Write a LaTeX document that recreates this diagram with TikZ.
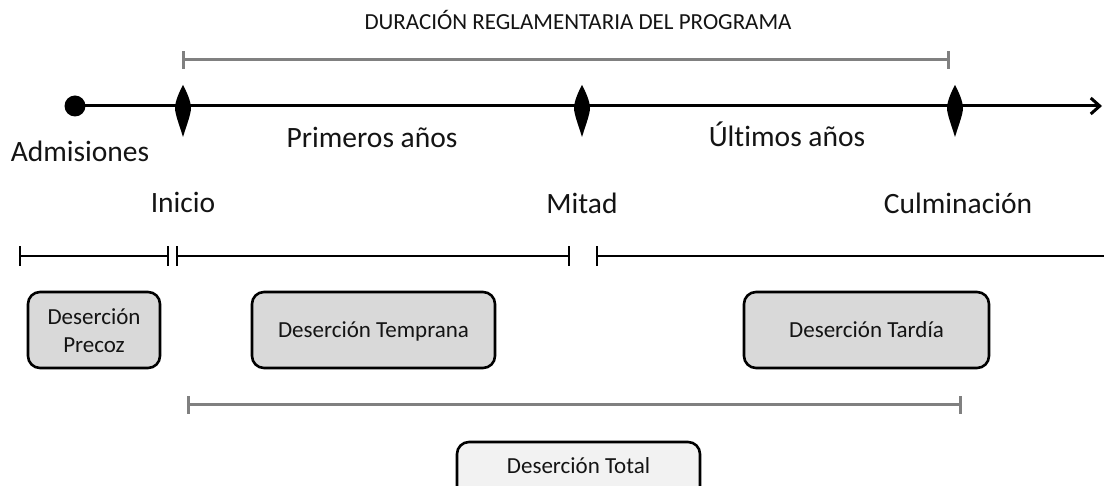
\documentclass[tikz,border=0pt]{standalone}
\usepackage{fontspec}
\setmainfont{Carlito}[Ligatures=NoCommon]
\usetikzlibrary{arrows.meta}
\definecolor{barGray}{RGB}{128,128,128}
\definecolor{boxFill}{RGB}{217,217,217}
\definecolor{totFill}{RGB}{242,242,242}
\definecolor{txt}{RGB}{20,20,20}
\tikzset{
  axisline/.style={line width=3pt, black},
  grayline/.style={line width=3pt, barGray},
  blackbar/.style={line width=2.6pt, black},
  biglabel/.style={font=\fontsize{29.5}{34}\selectfont, text=txt, inner sep=0pt, anchor=base},
  titlelabel/.style={font=\fontsize{23}{26}\selectfont, text=txt, inner sep=0pt, anchor=base},
  dbox/.style={draw=black, line width=2.6pt, fill=boxFill, rounded corners=12pt},
  boxtext/.style={font=\fontsize{23}{28}\selectfont, text=txt, inner sep=0pt, anchor=base},
}
\begin{document}
\begin{tikzpicture}[x=1pt,y=-1pt]
\useasboundingbox (0,0) rectangle (1104,486);
\fill[white] (0,0) rectangle (1104,486);
% title and gray bracket
\node[titlelabel] (title) at (578,30) {DURACIÓN REGLAMENTARIA DEL PROGRAMA};
\coordinate (dA) at (183,60);
\coordinate (dB) at (948,60);
\draw[grayline] (dA) -- (dB);
\draw[grayline] ([yshift=-9pt]dA) -- ([yshift=9pt]dA);
\draw[grayline] ([yshift=-9pt]dB) -- ([yshift=9pt]dB);
% main axis
\coordinate (axS) at (75,106);
\coordinate (axE) at (1102,106);
\draw[axisline, -{Straight Barb[length=9pt,width=16pt,line width=3pt]}] (axS) -- (axE);
\fill (axS) circle (10.5);
% lens markers
\foreach \x/\n in {183/inicioM, 582/mitadM, 955/culmM}{
  \coordinate (\n) at (\x,106);
  \fill[black] (\x,85) .. controls (\x+6,96) and (\x+8,104) .. (\x+8,108)
                  .. controls (\x+8,114) and (\x+4,124) .. (\x,137)
                  .. controls (\x-4,124) and (\x-8,114) .. (\x-8,108)
                  .. controls (\x-8,104) and (\x-6,96) .. (\x,85) -- cycle;
}
% labels
\node[biglabel] (adm) at (80,162) {Admisiones};
\node[biglabel] (prim) at (372,148) {Primeros años};
\node[biglabel] (ult) at (787,147) {Últimos años};
\node[biglabel] (ini) at (183,213) {Inicio};
\node[biglabel] (mit) at (582,214) {Mitad};
\node[biglabel] (cul) at (958,214) {Culminación};
% lower black segments
\coordinate (s1a) at (20,256); \coordinate (s1b) at (168,256);
\coordinate (s2a) at (177,256); \coordinate (s2b) at (569,256);
\coordinate (s3a) at (597,256); \coordinate (s3b) at (1104,256);
\draw[blackbar] (s1a) -- (s1b);
\draw[blackbar] (s2a) -- (s2b);
\draw[blackbar] (s3a) -- (s3b);
\foreach \c in {s1a,s1b,s2a,s2b,s3a}{
  \draw[blackbar] ([yshift=-10pt]\c) -- ([yshift=10pt]\c);
}
% boxes
\draw[dbox] (28,292) rectangle (160,368);
\node[boxtext] (precoz1) at (94,325) {Deserción};
\node[boxtext] (precoz2) at (94,353) {Precoz};
\draw[dbox] (252,292) rectangle (495,368);
\node[boxtext] (temprana) at (373.5,338) {Deserción Temprana};
\draw[dbox] (744,292) rectangle (989,368);
\node[boxtext] (tardia) at (866.5,338) {Deserción Tardía};
% bottom gray bracket
\coordinate (tA) at (188,405);
\coordinate (tB) at (960,405);
\draw[grayline] (tA) -- (tB);
\draw[grayline] ([yshift=-9pt]tA) -- ([yshift=9pt]tA);
\draw[grayline] ([yshift=-9pt]tB) -- ([yshift=9pt]tB);
% total box (cut at bottom edge)
\begin{scope}
\clip (0,0) rectangle (1104,486);
\draw[dbox, fill=totFill] (457,442) rectangle (700,540);
\end{scope}
\node[boxtext] (total) at (578.5,473) {Deserción Total};
\end{tikzpicture}
\end{document}
